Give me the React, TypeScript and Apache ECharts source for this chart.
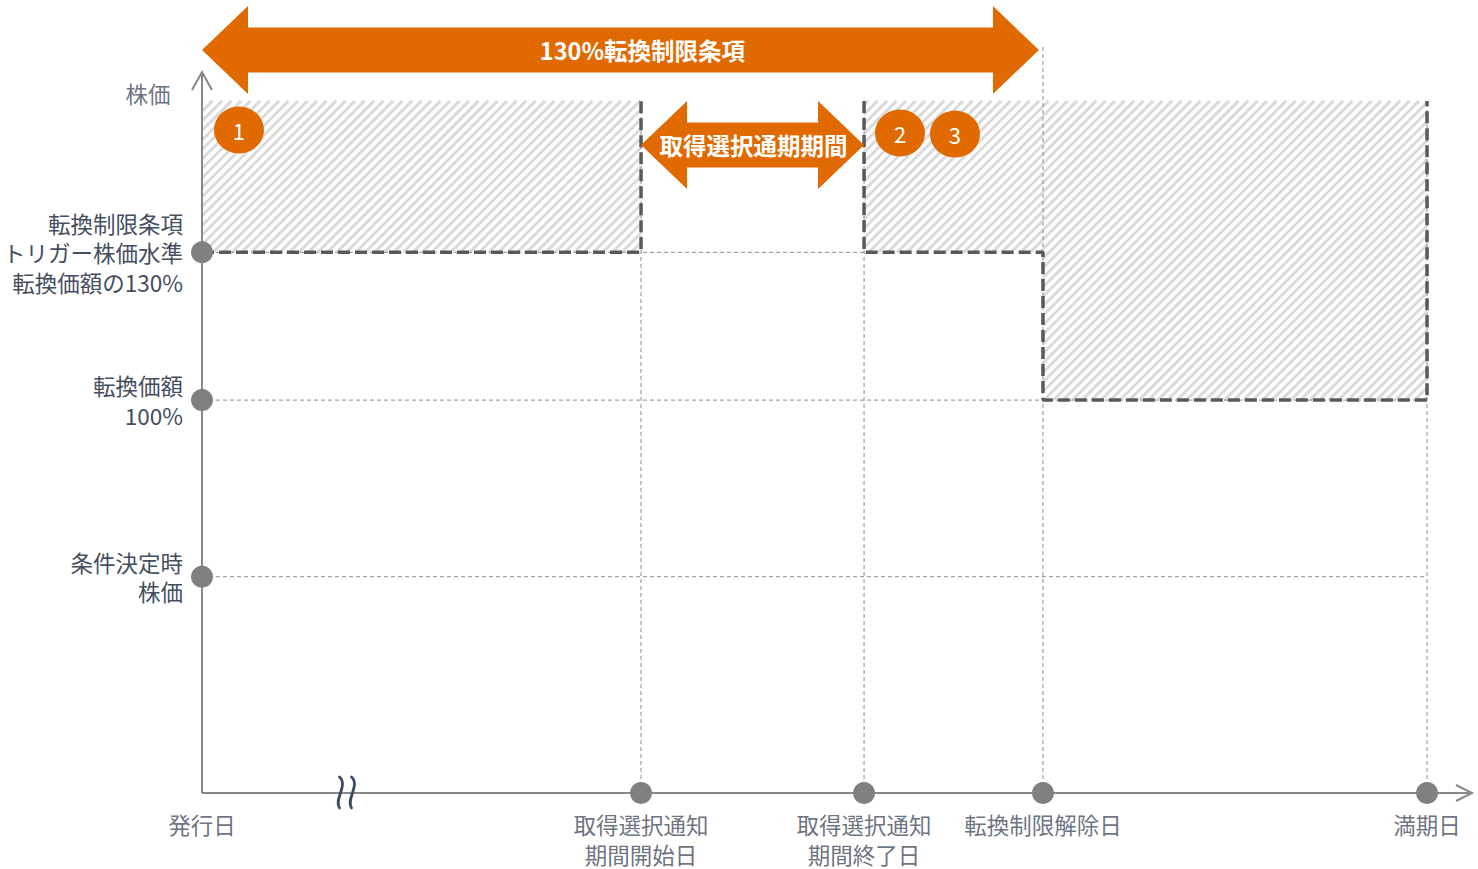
import { useEffect, useRef } from "react";
import * as echarts from "echarts";

// ---- data ----
const eventX = [0, 34.57, 52.13, 66.22, 96.46];
const eventLabels = [
  "発行日",
  "取得選択通知\n期間開始日",
  "取得選択通知\n期間終了日",
  "転換制限解除日",
  "満期日",
];
const eventHasDot = [false, true, true, true, true];

const levelY = [75, 54.5, 30];
const levelLabels = [
  "転換制限条項\nトリガー株価水準\n転換価額の130%",
  "転換価額\n100%",
  "条件決定時\n株価",
];
const yTitle = "株価";
const yTitleLevel = 97.1;

const axisEndX = 100;
const axisEndY = 100;
const hatchTop = 96;

// hatched zones: [x0, x1, yLow, yHigh]
const hatchRects = [
  [eventX[0], eventX[1], levelY[0], hatchTop],
  [eventX[2], eventX[3], levelY[0], hatchTop],
  [eventX[3], eventX[4], levelY[1], hatchTop],
];

// heavy dashed boundaries
const boundaryA = [
  [eventX[0], levelY[0]],
  [eventX[1], levelY[0]],
  [eventX[1], hatchTop],
];
const boundaryB = [
  [eventX[2], hatchTop],
  [eventX[2], levelY[0]],
  [eventX[3], levelY[0]],
  [eventX[3], levelY[1]],
  [eventX[4], levelY[1]],
  [eventX[4], hatchTop],
];

// thin dashed guides: [x0, y0, x1, y1]
const guides = [
  [0, levelY[0], eventX[2], levelY[0]],
  [0, levelY[1], eventX[4], levelY[1]],
  [0, levelY[2], eventX[4], levelY[2]],
  [eventX[1], 0, eventX[1], hatchTop],
  [eventX[2], 0, eventX[2], hatchTop],
  [eventX[3], 0, eventX[3], 103.8],
  [eventX[4], 0, eventX[4], hatchTop],
];

// double arrows: [xStart, xEnd, yCenter]
const arrowSpans = [
  [0, 65.9, 103.05],
  [eventX[1], eventX[2], 89.9],
];
const arrowLabels = ["130%転換制限条項", "取得選択通期期間"];
const arrowLabelShift = [22, 1];

const badgePos = [
  [2.91, 91.97],
  [54.96, 91.55],
  [59.29, 91.4],
];
const badgeLabels = ["1", "2", "3"];

const breakMarkX = 11.3;

const ORANGE = "#E06A00";
const TEXT = "#454e60";
const FONT = "'Noto Sans CJK JP', 'Noto Sans', sans-serif";

export default function App() {
  const ref = useRef<HTMLDivElement>(null);

  useEffect(() => {
    if (!ref.current) return;
    const chart = echarts.init(ref.current, undefined, { renderer: "svg" });

    const hatchRender = (params: any, api: any) => {
      const a = api.coord([api.value(0), api.value(3)]);
      const b = api.coord([api.value(1), api.value(2)]);
      const xl = a[0], yt = a[1], xr = b[0], yb = b[1];
      const step = 9.5;
      const children: any[] = [];
      const cStart = Math.floor((xl + yt) / step) * step;
      for (let c = cStart; c <= xr + yb; c += step) {
        const lo = Math.max(yt, c - xr);
        const hi = Math.min(yb, c - xl);
        if (hi - lo > 0.5) {
          children.push({
            type: "line",
            shape: { x1: c - lo, y1: lo, x2: c - hi, y2: hi },
            style: { stroke: "#dadada", lineWidth: 3 },
          });
        }
      }
      return { type: "group", children };
    };

    const guideRender = (params: any, api: any) => {
      const p0 = api.coord([api.value(0), api.value(1)]);
      const p1 = api.coord([api.value(2), api.value(3)]);
      return {
        type: "line",
        shape: { x1: p0[0], y1: p0[1], x2: p1[0], y2: p1[1] },
        style: { stroke: "#8c8c8c", lineWidth: 1, lineDash: [4, 3] },
      };
    };

    const arrowRender = (params: any, api: any) => {
      const p0 = api.coord([api.value(0), api.value(2)]);
      const p1 = api.coord([api.value(1), api.value(2)]);
      const x0 = p0[0], x1 = p1[0], y = p0[1];
      const hl = 46, hh = 44, sh = 22.5;
      const points = [
        [x0, y],
        [x0 + hl, y - hh],
        [x0 + hl, y - sh],
        [x1 - hl, y - sh],
        [x1 - hl, y - hh],
        [x1, y],
        [x1 - hl, y + hh],
        [x1 - hl, y + sh],
        [x0 + hl, y + sh],
        [x0 + hl, y + hh],
      ];
      return {
        type: "group",
        children: [
          { type: "polygon", shape: { points }, style: { fill: ORANGE } },
          {
            type: "text",
            style: {
              text: arrowLabels[params.dataIndex],
              x: (x0 + x1) / 2 + arrowLabelShift[params.dataIndex],
              y: y,
              fill: "#ffffff",
              fontSize: 23.5,
              fontWeight: "bold",
              fontFamily: FONT,
              align: "center",
              verticalAlign: "middle",
            },
          },
        ],
      };
    };

    const chevronRender = (params: any, api: any) => {
      const p = api.coord([api.value(0), api.value(1)]);
      const dir = api.value(2);
      const pts =
        dir === 0
          ? [[p[0] - 16, p[1] - 8], [p[0], p[1]], [p[0] - 16, p[1] + 8]]
          : [[p[0] - 10, p[1] + 18], [p[0], p[1]], [p[0] + 10, p[1] + 18]];
      return {
        type: "polyline",
        shape: { points: pts },
        style: { stroke: "#888888", lineWidth: 2, fill: "none" },
      };
    };

    const breakRender = (params: any, api: any) => {
      const p = api.coord([api.value(0), api.value(1)]);
      const mk = (dx: number) => ({
        type: "bezierCurve",
        shape: {
          x1: p[0] - 6 + dx, y1: p[1] - 16,
          cpx1: p[0] + 3 + dx, cpy1: p[1] - 8,
          cpx2: p[0] - 12 + dx, cpy2: p[1] + 7,
          x2: p[0] - 6 + dx, y2: p[1] + 15,
        },
        style: { stroke: "#3b4a63", lineWidth: 2.8, fill: "none", lineCap: "round" },
      });
      return { type: "group", children: [mk(0), mk(12)] };
    };

    const option: any = {
      animation: false,
      grid: { left: 202, right: 6, top: 0, bottom: 76 },
      xAxis: { type: "value", min: 0, max: 100, show: false },
      yAxis: { type: "value", min: 0, max: 110, show: false },
      series: [
        {
          type: "custom",
          z: 1,
          renderItem: hatchRender,
          data: hatchRects,
          encode: { x: [0, 1], y: [2, 3] },
          silent: true,
        },
        {
          type: "custom",
          z: 2,
          renderItem: guideRender,
          data: guides,
          encode: { x: [0, 2], y: [1, 3] },
          silent: true,
        },
        ...[boundaryA, boundaryB].map((d) => ({
          type: "line",
          z: 3,
          data: d,
          symbol: "none",
          lineStyle: { color: "#595959", width: 3.5, type: [12, 5] },
          silent: true,
        })),
        {
          type: "line",
          z: 4,
          data: [[0, 0], [axisEndX, 0]],
          symbol: "none",
          lineStyle: { color: "#888888", width: 2 },
          silent: true,
        },
        {
          type: "line",
          z: 4,
          data: [[0, 0], [0, axisEndY]],
          symbol: "none",
          lineStyle: { color: "#888888", width: 2 },
          silent: true,
        },
        {
          type: "custom",
          z: 4,
          renderItem: chevronRender,
          data: [[axisEndX, 0, 0], [0, axisEndY, 1]],
          silent: true,
        },
        {
          type: "custom",
          z: 5,
          renderItem: breakRender,
          data: [[breakMarkX, 0]],
          silent: true,
        },
        // y-level dots with labels
        {
          type: "scatter",
          z: 6,
          symbolSize: 22,
          itemStyle: { color: "#808080", opacity: 1 },
          data: levelY.map((y, i) => ({
            value: [0, y],
            label: {
              show: true,
              position: "left",
              distance: 8,
              formatter: levelLabels[i],
              align: "right",
              color: TEXT,
              fontSize: 22.5,
              lineHeight: 29.5,
              fontFamily: FONT,
            },
          })),
          silent: true,
        },
        // y axis title
        {
          type: "scatter",
          z: 6,
          symbolSize: 1,
          itemStyle: { color: "rgba(0,0,0,0)" },
          data: [
            {
              value: [0, yTitleLevel],
              label: {
                show: true,
                position: "left",
                distance: 31,
                formatter: yTitle,
                color: TEXT,
                fontSize: 22.5,
                fontFamily: FONT,
              },
            },
          ],
          silent: true,
        },
        // event dots
        {
          type: "scatter",
          z: 6,
          symbolSize: 22,
          itemStyle: { color: "#808080", opacity: 1 },
          data: eventX.filter((_, i) => eventHasDot[i]).map((x) => [x, 0]),
          silent: true,
        },
        // event labels
        {
          type: "scatter",
          z: 6,
          symbolSize: 1,
          itemStyle: { color: "rgba(0,0,0,0)" },
          data: eventX.map((x, i) => ({
            value: [x, 0],
            label: {
              show: true,
              position: "bottom",
              distance: 16,
              formatter: eventLabels[i],
              align: "center",
              color: TEXT,
              fontSize: 22.5,
              lineHeight: 29.5,
              fontFamily: FONT,
            },
          })),
          silent: true,
        },
        {
          type: "custom",
          z: 7,
          renderItem: arrowRender,
          data: arrowSpans,
          encode: { x: [0, 1], y: [2] },
          silent: true,
        },
        {
          type: "scatter",
          z: 8,
          symbolSize: [50, 47],
          itemStyle: { color: ORANGE, opacity: 1 },
          data: badgePos.map((p, i) => ({
            value: p,
            label: {
              show: true,
              position: "inside",
              formatter: badgeLabels[i],
              color: "#ffffff",
              fontSize: 22,
              fontFamily: FONT,
            },
          })),
          silent: true,
        },
      ],
    };

    chart.setOption(option);
    return () => chart.dispose();
  }, []);

  return (
    <div
      ref={ref}
      style={{ position: "absolute", left: 0, top: 0, width: 1478, height: 869, background: "#ffffff" }}
    />
  );
}
